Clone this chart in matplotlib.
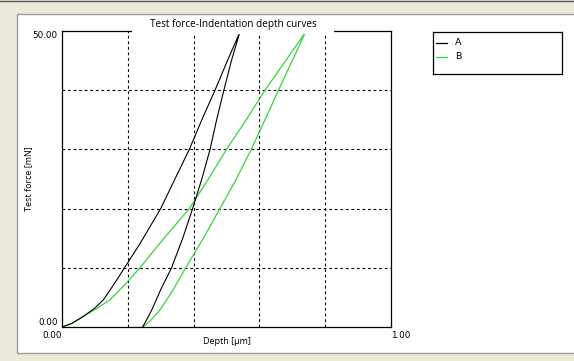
import matplotlib
matplotlib.use("Agg")
import matplotlib.pyplot as plt
from matplotlib.patches import Rectangle
from matplotlib.lines import Line2D

# ---- data ----
a_load_x = [0.0, 0.03, 0.065, 0.1, 0.126, 0.16, 0.19, 0.235, 0.267, 0.30, 0.345, 0.387, 0.425, 0.465, 0.503, 0.54]
a_load_y = [0.0, 0.6, 1.8, 3.2, 4.6, 7.4, 10.0, 13.9, 16.9, 20.0, 25.2, 30.0, 35.0, 40.0, 45.0, 49.7]
a_unload_x = [0.54, 0.515, 0.492, 0.47, 0.45, 0.425, 0.397, 0.367, 0.333, 0.30, 0.273, 0.257, 0.245]
a_unload_y = [49.7, 45.0, 40.0, 35.0, 30.0, 25.0, 20.0, 15.0, 10.0, 6.3, 2.9, 1.2, 0.0]

b_load_x = [0.0, 0.03, 0.065, 0.105, 0.146, 0.19, 0.237, 0.31, 0.387, 0.445, 0.50, 0.56, 0.617, 0.68, 0.739]
b_load_y = [0.0, 0.6, 1.8, 3.1, 4.6, 7.1, 10.0, 15.0, 20.0, 25.0, 30.0, 35.0, 40.0, 45.0, 49.7]
b_unload_x = [0.739, 0.70, 0.658, 0.617, 0.575, 0.53, 0.48, 0.43, 0.376, 0.338, 0.298, 0.268, 0.245]
b_unload_y = [49.7, 45.0, 40.0, 35.0, 30.0, 25.0, 20.0, 15.0, 10.0, 6.3, 2.9, 1.0, 0.0]

series_names = ["A", "B"]
series_colors = ["#000000", "#3ad43a"]
x_ticks = [0.0, 1.0]
x_tick_labels = ["0.00", "1.00"]
y_ticks = [0.0, 50.0]
y_tick_labels = ["0.00", "50.00"]
x_grid = [0.2, 0.4, 0.6, 0.8]
y_grid = [10, 20, 30, 40]

W, H = 574, 361
fig = plt.figure(figsize=(W / 100, H / 100), dpi=100)
fig.patch.set_facecolor("#ece9d8")

def fx(px):
    return px / W

def fy(py):
    return 1 - py / H

# white panel
fig.patches.append(Rectangle((fx(17), fy(353)), fx(W - 17 + 5), fy(14) - fy(353),
                             transform=fig.transFigure, facecolor="white",
                             edgecolor="#9a9a9a", linewidth=1.0, zorder=-10))
# top dark strip line
fig.lines.append(Line2D([0, 1], [fy(0.5), fy(0.5)], transform=fig.transFigure,
                        color="#555555", linewidth=1.0, zorder=-9))

ax = fig.add_axes([fx(62), fy(327), fx(391) - fx(62), fy(31) - fy(327)])
ax.set_facecolor("white")
ax.set_xlim(0, 1)
ax.set_ylim(0, 50)

for gx in x_grid:
    ax.axvline(gx, color="#000000", linewidth=0.8, linestyle=(0, (2.5, 2.5)), zorder=1)
for gy in y_grid:
    ax.axhline(gy, color="#000000", linewidth=0.8, linestyle=(0, (2.5, 2.5)), zorder=1)

ax.plot(a_load_x + a_unload_x[1:], a_load_y + a_unload_y[1:], color=series_colors[0],
        linewidth=0.8, zorder=3)
ax.plot(b_load_x + b_unload_x[1:], b_load_y + b_unload_y[1:], color=series_colors[1],
        linewidth=0.9, zorder=2)

for s in ax.spines.values():
    s.set_color("#000000")
    s.set_linewidth(0.9)

tick_font = dict(family="DejaVu Sans", size=6.3)
ax.set_xticks(x_ticks)
ax.set_xticklabels(x_tick_labels, **tick_font)
ax.set_yticks(y_ticks)
ax.set_yticklabels(y_tick_labels, **tick_font)
ax.tick_params(length=0, pad=3)
xl = ax.get_xticklabels()
xl[0].set_ha("right")
xl[1].set_ha("left")
yl = ax.get_yticklabels()
yl[0].set_va("bottom")
yl[1].set_va("top")

ax.set_xlabel("Depth [µm]", family="Open Sans", fontsize=6.5, va="center")
ax.xaxis.set_label_coords(0.5, -(342 - 327) / 296)
ax.set_ylabel("Test force [mN]", family="Open Sans", fontsize=6.5, va="center")
ax.yaxis.set_label_coords(-(62 - 29) / 329, 0.5)

# white backing that hides the top spine behind the title
fig.patches.append(Rectangle((fx(132), fy(34)), fx(334) - fx(132), fy(16) - fy(34),
                             transform=fig.transFigure, facecolor="white",
                             edgecolor="none", zorder=5))
fig.text(fx(233), fy(24), "Test force-Indentation depth curves", family="Open Sans",
         fontsize=7.2, ha="center", va="center", zorder=10)

# legend box
lax = fig.add_axes([fx(433), fy(74), fx(562) - fx(433), fy(32) - fy(74)])
lax.set_xlim(0, 1)
lax.set_ylim(0, 1)
lax.set_xticks([])
lax.set_yticks([])
for s in lax.spines.values():
    s.set_color("#000000")
    s.set_linewidth(0.9)
for i, (name, col) in enumerate(zip(series_names, series_colors)):
    yy = 0.74 - i * 0.33
    lax.plot([0.02, 0.11], [yy, yy], color=col, linewidth=0.9)
    lax.text(0.17, yy, name, family="DejaVu Sans", fontsize=6.8, va="center", ha="left")

fig.savefig("out.png", dpi=100, facecolor=fig.get_facecolor())
